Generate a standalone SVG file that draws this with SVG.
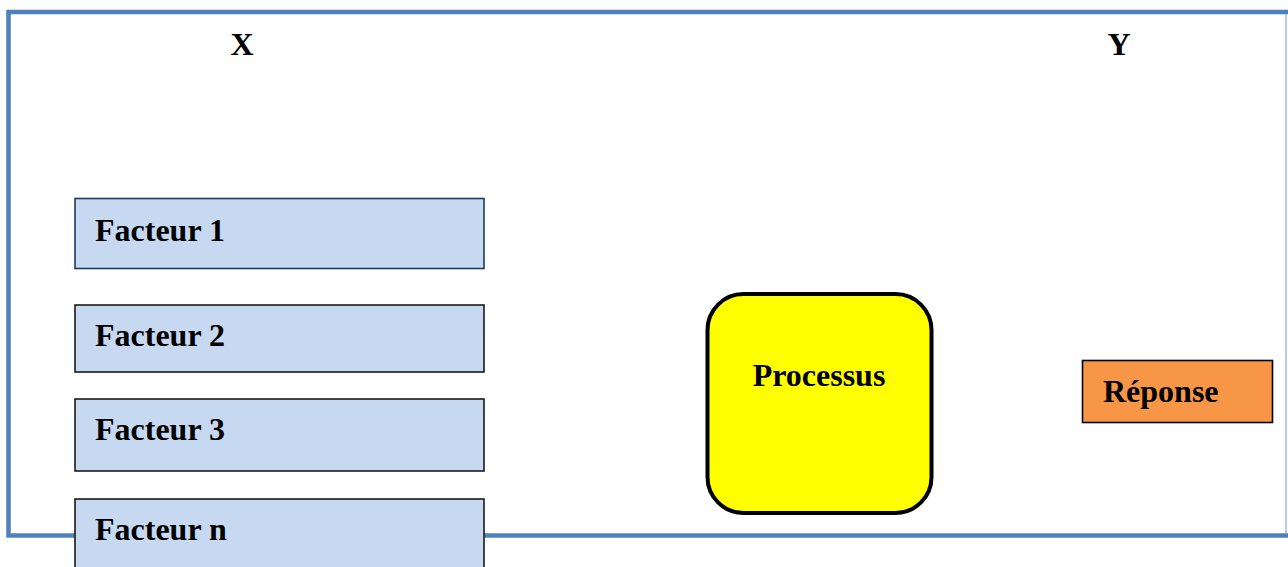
<svg xmlns="http://www.w3.org/2000/svg" width="1288" height="567" viewBox="0 0 1288 567">
  <style>
    .lbl { font-family: "Liberation Serif", "Times New Roman", serif; font-weight: bold; font-size: 32px; fill: #000; }
    .factor { fill: #c6d9f0; stroke: #1a1a1a; stroke-width: 1.6; }
    .frame { fill: none; stroke: #4f81bd; stroke-width: 4.5; }
  </style>
  <rect width="1288" height="567" fill="#ffffff"/>

  <!-- outer frame -->
  <g id="frame">
    <path class="frame" d="M1288,12 H8.5 V535.5 H1288"/>
    <line x1="1286" y1="14" x2="1286" y2="533" stroke="#8eaadb" stroke-width="1.2"/>
  </g>

  <!-- axis headings -->
  <g id="axis-x"><text class="lbl" x="242" y="55" text-anchor="middle">X</text></g>
  <g id="axis-y"><text class="lbl" x="1119" y="55" text-anchor="middle">Y</text></g>

  <!-- input factors -->
  <g id="facteur-1">
    <rect class="factor" x="75" y="198.5" width="409" height="70" style="stroke:#1f3a60"/>
    <text class="lbl" x="95" y="241">Facteur 1</text>
  </g>
  <g id="facteur-2">
    <rect class="factor" x="75" y="305" width="409" height="67"/>
    <text class="lbl" x="95" y="346">Facteur 2</text>
  </g>
  <g id="facteur-3">
    <rect class="factor" x="75" y="399" width="409" height="72"/>
    <text class="lbl" x="95" y="440">Facteur 3</text>
  </g>
  <g id="facteur-n">
    <rect class="factor" x="75" y="499" width="409" height="80"/>
    <text class="lbl" x="95" y="540">Facteur n</text>
  </g>

  <!-- process -->
  <g id="processus">
    <rect x="707.5" y="294" width="224" height="219" rx="36" ry="36" fill="#ffff00" stroke="#000" stroke-width="4"/>
    <text class="lbl" x="819" y="386" text-anchor="middle">Processus</text>
  </g>

  <!-- response -->
  <g id="reponse">
    <rect x="1082.5" y="360.5" width="190" height="62" fill="#f79646" stroke="#000" stroke-width="1.6"/>
    <text class="lbl" x="1103" y="402">Réponse</text>
  </g>

  <g id="connectors"/>
</svg>
